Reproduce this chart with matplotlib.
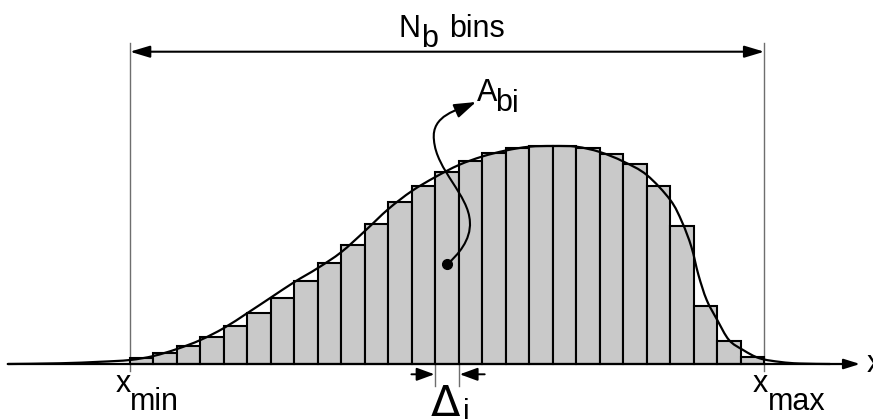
import numpy as np
import matplotlib
matplotlib.use("Agg")
import matplotlib.pyplot as plt
from matplotlib.path import Path
from matplotlib.patches import FancyArrowPatch

plt.rcParams["font.family"] = ["Liberation Sans", "DejaVu Sans"]

# Histogram contents: one value per bin, bins of unit width from x_min = 0 to x_max = 27
bin_heights = [6, 11, 18, 27, 38.5, 51, 66, 83, 101, 119, 140, 161.5, 178, 191.5,
               203, 211, 216, 218, 217.5, 216, 210, 199.5, 178, 138, 58, 23.5, 7]
n_bins = len(bin_heights)
x_min, x_max = 0, n_bins

# Underlying density, sampled along x (same units as the bins)
curve_x = [-5.2, -3.0, -1.3, 0, 1, 2, 3, 4, 5, 6, 7, 8, 9, 10, 11, 12, 13, 14, 15,
           16, 17, 18, 19, 20, 21, 22, 23, 23.5, 23.9, 24.2, 24.55, 25, 25.5,
           26.1, 26.8, 27.7, 28.5, 29.8]
curve_y = [0, 0.7, 2.2, 4, 8, 15, 24, 36, 51, 66.5, 82, 96, 112, 133, 155, 173,
           187, 199, 207.5, 213.5, 217.3, 218, 217.3, 212, 202.5, 189, 164, 142,
           117, 89, 64, 44, 24, 14, 5.7, 2, 0.5, 0]

# Bin that is singled out with the Delta_i marker
i_sel = 13

FS = 22


def smooth_path(xs, ys):
    """Cubic Bezier path through the points (Catmull-Rom tangents)."""
    pts = np.column_stack([xs, ys]).astype(float)
    verts = [pts[0]]
    codes = [Path.MOVETO]
    n = len(pts)
    for k in range(n - 1):
        p0 = pts[k - 1] if k > 0 else pts[k]
        p1 = pts[k]
        p2 = pts[k + 1]
        p3 = pts[k + 2] if k + 2 < n else pts[k + 1]
        verts += [p1 + (p2 - p0) / 6.0, p2 - (p3 - p1) / 6.0, p2]
        codes += [Path.CURVE4] * 3
    return Path(verts, codes)


fig = plt.figure(figsize=(8.73, 4.19), dpi=100)
ax = fig.add_axes([0, 0, 1, 1])
ax.set_xlim(-5.534, 31.63)
ax.set_ylim(-55, 364)
ax.set_axis_off()

# Bars
ax.bar(np.arange(n_bins), bin_heights, width=1.0, align="edge",
       color="#c9c9c9", edgecolor="black", linewidth=1.5, zorder=2)

# Density curve
ax.add_patch(FancyArrowPatch(path=smooth_path(curve_x, curve_y), arrowstyle="-",
                             lw=1.6, color="black", zorder=4))

# x axis with arrow
ax.annotate("", xy=(31.08, 0), xytext=(-5.2, 0),
            arrowprops=dict(arrowstyle="-|>,head_length=0.8,head_width=0.25",
                            mutation_scale=12, lw=1.6, color="black",
                            shrinkA=0, shrinkB=0), zorder=3)
ax.text(31.37, -8, "x", fontsize=FS, ha="left", va="baseline")

# Range markers at x_min and x_max
for xv in (x_min, x_max):
    ax.plot([xv, xv], [-7, 321.3], color="#6e6e6e", lw=1.0, zorder=1)

# N_b bins span
ax.annotate("", xy=(x_max, 312.3), xytext=(x_min, 312.3),
            arrowprops=dict(arrowstyle="<|-|>,head_length=1.0,head_width=0.3",
                            mutation_scale=12, lw=1.5, color="black",
                            shrinkA=0, shrinkB=0))
ax.text(11.45, 327, "N", fontsize=FS, ha="left", va="baseline")
ax.text(12.39, 317.3, "b", fontsize=FS, ha="left", va="baseline")
ax.text(13.6, 327, "bins", fontsize=FS, ha="left", va="baseline")

# A_bi pointer from inside the selected bin
cx = i_sel + 0.5
dot_y = 99.7
ptr = Path([(cx, dot_y), (13.96, 109), (14.52, 124), (14.47, 142),
            (14.43, 169), (13.03, 194), (12.94, 224),
            (12.81, 249), (13.96, 254), (14.73, 262)],
           [Path.MOVETO] + [Path.CURVE4] * 9)
ax.add_patch(FancyArrowPatch(path=ptr,
                             arrowstyle="-|>,head_length=1.2,head_width=0.4",
                             mutation_scale=11, lw=1.5, color="black", zorder=5))
ax.plot([cx], [dot_y], "o", ms=7, color="black", zorder=6)
ax.text(14.77, 263.3, "A", fontsize=FS, ha="left", va="baseline")
ax.text(15.54, 253, "b", fontsize=FS, ha="left", va="baseline")
ax.text(16.27, 251.5, "i", fontsize=FS, ha="left", va="baseline")

# Bin width Delta_i
for xv in (i_sel, i_sel + 1):
    ax.plot([xv, xv], [0, -22], color="#6e6e6e", lw=1.0, zorder=1)
ax.annotate("", xy=(i_sel - 0.04, -10.3), xytext=(i_sel - 1.02, -10.3),
            arrowprops=dict(arrowstyle="-|>,head_length=0.9,head_width=0.33",
                            mutation_scale=12, lw=1.4, color="black",
                            shrinkA=0, shrinkB=0))
ax.annotate("", xy=(i_sel + 1.04, -10.3), xytext=(i_sel + 2.1, -10.3),
            arrowprops=dict(arrowstyle="-|>,head_length=0.9,head_width=0.33",
                            mutation_scale=12, lw=1.4, color="black",
                            shrinkA=0, shrinkB=0))
ax.text(12.82, -52, "\u0394", fontsize=31, ha="left", va="baseline",
        family="DejaVu Sans")
ax.text(14.18, -57, "i", fontsize=FS, ha="left", va="baseline")

# Range labels
ax.text(-0.62, -27.7, "x", fontsize=FS, ha="left", va="baseline")
ax.text(0.02, -46, "min", fontsize=FS, ha="left", va="baseline")
ax.text(26.52, -27.7, "x", fontsize=FS, ha="left", va="baseline")
ax.text(27.17, -46, "max", fontsize=FS, ha="left", va="baseline")

fig.savefig("out.png", dpi=100)
